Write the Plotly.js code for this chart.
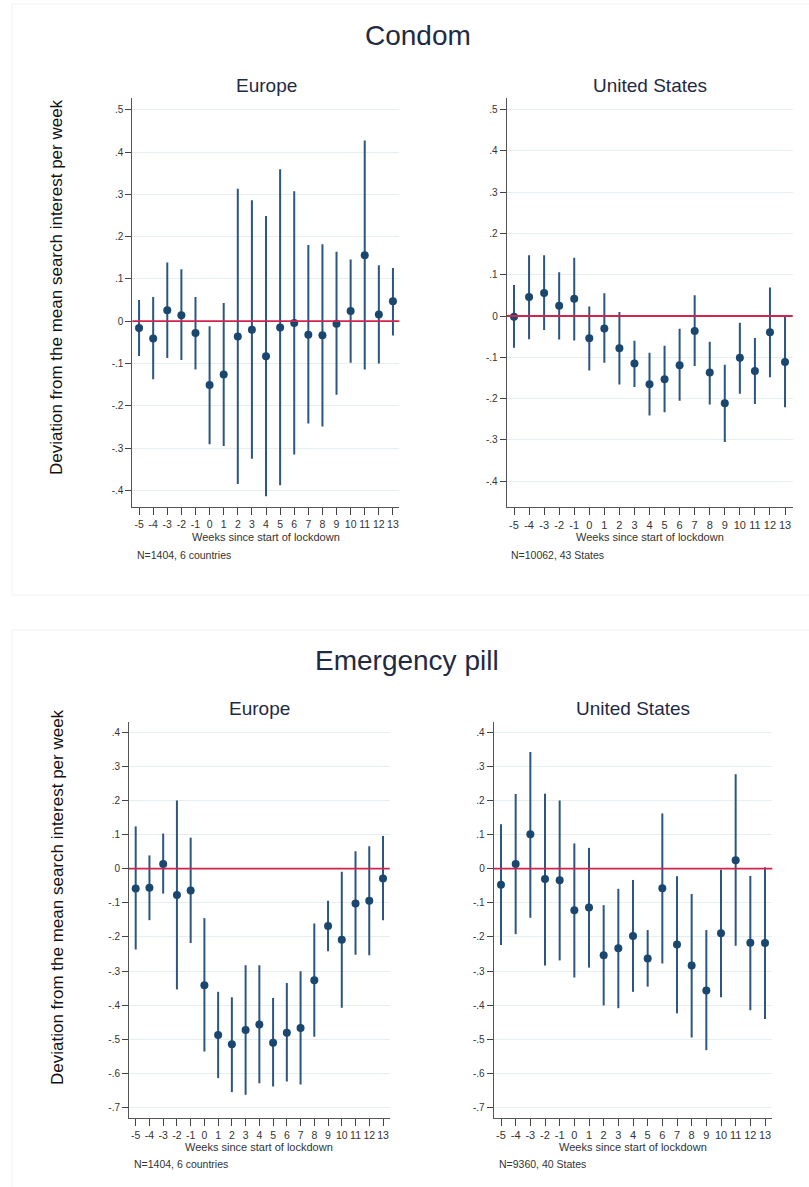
<!DOCTYPE html>
<html>
<head>
<meta charset="utf-8">
<script src="https://cdn.plot.ly/plotly-3.0.1.min.js"></script>
<style>
html,body{margin:0;padding:0;background:#fff;}
#chart{width:809px;height:1187px;}
</style>
</head>
<body>
<div id="chart"></div>
<script>
// ---- data ----
const weeks = [-5,-4,-3,-2,-1,0,1,2,3,4,5,6,7,8,9,10,11,12,13];
const weekLabels = ["-5","-4","-3","-2","-1","0","1","2","3","4","5","6","7","8","9","10","11","12","13"];

const euCondomEst = [-0.016,-0.041,0.026,0.014,-0.028,-0.151,-0.126,-0.036,-0.020,-0.083,-0.015,-0.004,-0.032,-0.033,-0.006,0.024,0.156,0.016,0.047];
const euCondomLo  = [-0.082,-0.137,-0.087,-0.092,-0.114,-0.291,-0.295,-0.385,-0.325,-0.414,-0.388,-0.315,-0.242,-0.249,-0.174,-0.098,-0.114,-0.100,-0.034];
const euCondomHi  = [0.050,0.057,0.139,0.123,0.057,-0.012,0.043,0.313,0.286,0.249,0.359,0.307,0.180,0.182,0.164,0.146,0.427,0.132,0.126];

const usCondomEst = [-0.002,0.046,0.056,0.025,0.042,-0.054,-0.030,-0.078,-0.115,-0.165,-0.153,-0.119,-0.036,-0.137,-0.211,-0.101,-0.133,-0.039,-0.111];
const usCondomLo  = [-0.077,-0.056,-0.034,-0.057,-0.059,-0.132,-0.113,-0.166,-0.172,-0.241,-0.233,-0.205,-0.121,-0.214,-0.305,-0.188,-0.213,-0.148,-0.221];
const usCondomHi  = [0.075,0.147,0.147,0.106,0.141,0.023,0.055,0.010,-0.060,-0.089,-0.072,-0.031,0.050,-0.062,-0.118,-0.016,-0.053,0.069,0.000];

const euPillEst = [-0.058,-0.056,0.014,-0.077,-0.064,-0.342,-0.488,-0.515,-0.473,-0.457,-0.510,-0.481,-0.467,-0.327,-0.168,-0.208,-0.102,-0.094,-0.029];
const euPillLo  = [-0.237,-0.151,-0.073,-0.354,-0.218,-0.536,-0.614,-0.655,-0.663,-0.629,-0.639,-0.624,-0.633,-0.493,-0.242,-0.408,-0.252,-0.254,-0.151];
const euPillHi  = [0.124,0.039,0.103,0.200,0.091,-0.145,-0.361,-0.377,-0.283,-0.283,-0.379,-0.335,-0.301,-0.161,-0.094,-0.009,0.051,0.066,0.096];

const usPillEst = [-0.047,0.014,0.101,-0.030,-0.034,-0.122,-0.114,-0.254,-0.233,-0.197,-0.263,-0.057,-0.222,-0.284,-0.357,-0.189,0.025,-0.217,-0.218];
const usPillLo  = [-0.224,-0.192,-0.144,-0.284,-0.269,-0.319,-0.290,-0.401,-0.409,-0.361,-0.346,-0.278,-0.424,-0.495,-0.532,-0.377,-0.226,-0.415,-0.441];
const usPillHi  = [0.130,0.219,0.342,0.220,0.200,0.074,0.061,-0.107,-0.059,-0.033,-0.180,0.162,-0.022,-0.074,-0.180,-0.003,0.277,-0.021,0.004];

const condomTickVals = [-0.4,-0.3,-0.2,-0.1,0,0.1,0.2,0.3,0.4,0.5];
const condomTickText = ["-.4","-.3","-.2","-.1","0",".1",".2",".3",".4",".5"];
const pillTickVals = [-0.7,-0.6,-0.5,-0.4,-0.3,-0.2,-0.1,0,0.1,0.2,0.3,0.4];
const pillTickText = ["-.7","-.6","-.5","-.4","-.3","-.2","-.1","0",".1",".2",".3",".4"];

const mainTitles = ["Condom","Emergency pill"];
const panelTitles = ["Europe","United States","Europe","United States"];
const notes = ["N=1404, 6 countries","N=10062, 43 States","N=1404, 6 countries","N=9360, 40 States"];
const xTitle = "Weeks since start of lockdown";
const yTitle = "Deviation from the mean search interest per week";

// ---- layout helpers ----
const W = 809, H = 1187;
const px = x => x / W;
const py = y => 1 - y / H;
const FONT = "Liberation Sans, Arial, sans-serif";
const MARK = "#1a476f";
const SPIKE = "#2b5680";

function trace(est, lo, hi, ax) {
  return {
    type: "scatter", mode: "markers",
    x: weeks, y: est,
    xaxis: "x" + ax, yaxis: "y" + ax,
    marker: {color: MARK, size: 8},
    error_y: {
      type: "data", symmetric: false,
      array: hi.map((h, i) => h - est[i]),
      arrayminus: lo.map((l, i) => est[i] - l),
      color: SPIKE, thickness: 2, width: 0
    },
    showlegend: false, hoverinfo: "x+y"
  };
}

function xax(d0, d1, r0, r1, anchor, fs) {
  return {
    domain: [px(d0), px(d1)], range: [r0, r1], anchor: anchor,
    tickvals: weeks, ticktext: weekLabels, tickangle: 0,
    ticks: "outside", ticklen: 7, tickwidth: 1, tickcolor: "#444",
    showline: true, linecolor: "#555", linewidth: 1,
    showgrid: false, zeroline: false,
    tickfont: {family: FONT, size: fs, color: "#333"}
  };
}
function yax(d0, d1, r0, r1, anchor, tv, tt) {
  return {
    domain: [py(d1), py(d0)], range: [r0, r1], anchor: anchor,
    tickvals: tv, ticktext: tt,
    ticks: "outside", ticklen: 6, tickwidth: 1, tickcolor: "#444",
    showline: true, linecolor: "#555", linewidth: 1,
    showgrid: true, gridcolor: "#e6eef2", gridwidth: 1,
    zeroline: false,
    tickfont: {family: FONT, size: 10, color: "#333"}
  };
}

const data = [
  trace(euCondomEst, euCondomLo, euCondomHi, ""),
  trace(usCondomEst, usCondomLo, usCondomHi, "2"),
  trace(euPillEst, euPillLo, euPillHi, "3"),
  trace(usPillEst, usPillLo, usPillHi, "4")
];

function ann(text, x, y, size, color, extra) {
  return Object.assign({
    text: text, x: px(x), y: py(y), xref: "paper", yref: "paper",
    showarrow: false, font: {family: FONT, size: size, color: color},
    xanchor: "center", yanchor: "middle"
  }, extra || {});
}

const annotations = [
  ann(mainTitles[0], 418, 35, 28, "#1f2a44"),
  ann(mainTitles[1], 407, 660, 28, "#1f2a44"),
  ann(panelTitles[0], 266, 85, 19, "#1f2a44"),
  ann(panelTitles[1], 649.7, 85, 19, "#1f2a44"),
  ann(panelTitles[2], 259.3, 708, 19, "#1f2a44"),
  ann(panelTitles[3], 633, 708, 19, "#1f2a44"),
  ann(xTitle, 266, 537, 11, "#333"),
  ann(xTitle, 649.7, 537, 11, "#333"),
  ann(xTitle, 259.3, 1146.7, 11, "#333"),
  ann(xTitle, 633, 1146.7, 11, "#333"),
  ann(notes[0], 135, 555, 10.5, "#333", {xanchor: "left"}),
  ann(notes[1], 509, 555, 10.5, "#333", {xanchor: "left"}),
  ann(notes[2], 131.7, 1164, 10.5, "#333", {xanchor: "left"}),
  ann(notes[3], 496.7, 1164, 10.5, "#333", {xanchor: "left"}),
  ann(yTitle, 57, 287, 17, "#111", {textangle: -90}),
  ann(yTitle, 57, 897, 17, "#111", {textangle: -90})
];

function zeroLine(ax) {
  return {
    type: "line", xref: "x" + ax + " domain", yref: "y" + ax,
    x0: 0, x1: 1, y0: 0, y1: 0,
    line: {color: "#d0234e", width: 1.8}, layer: "above"
  };
}

const shapes = [
  zeroLine(""), zeroLine("2"), zeroLine("3"), zeroLine("4"),
  {type: "rect", xref: "paper", yref: "paper", x0: px(12), x1: px(815), y0: py(595), y1: py(4),
   line: {color: "#f2f2f2", width: 1}, fillcolor: "rgba(0,0,0,0)", layer: "below"},
  {type: "rect", xref: "paper", yref: "paper", x0: px(12), x1: px(815), y0: py(1192), y1: py(630),
   line: {color: "#f2f2f2", width: 1}, fillcolor: "rgba(0,0,0,0)", layer: "below"}
];

const layout = {
  width: W, height: H,
  margin: {l: 0, r: 0, t: 0, b: 0},
  paper_bgcolor: "#fff", plot_bgcolor: "#fff",
  showlegend: false,
  xaxis:  xax(132.3, 399.3, -5.48, 13.45, "y", 10.5),
  yaxis:  yax(98.3, 507.3, -0.440, 0.527, "x", condomTickVals, condomTickText),
  xaxis2: xax(506.7, 792.7, -5.485, 13.51, "y2", 11),
  yaxis2: yax(98.3, 507.3, -0.463, 0.527, "x2", condomTickVals, condomTickText),
  xaxis3: xax(129, 389.7, -5.488, 13.488, "y3", 10.5),
  yaxis3: yax(721.7, 1118, -0.731, 0.431, "x3", pillTickVals, pillTickText),
  xaxis4: xax(493.7, 772.3, -5.498, 13.498, "y4", 11),
  yaxis4: yax(721.7, 1118, -0.731, 0.431, "x4", pillTickVals, pillTickText),
  annotations: annotations,
  shapes: shapes
};

Plotly.newPlot("chart", data, layout, {staticPlot: true, displayModeBar: false});
</script>
</body>
</html>
